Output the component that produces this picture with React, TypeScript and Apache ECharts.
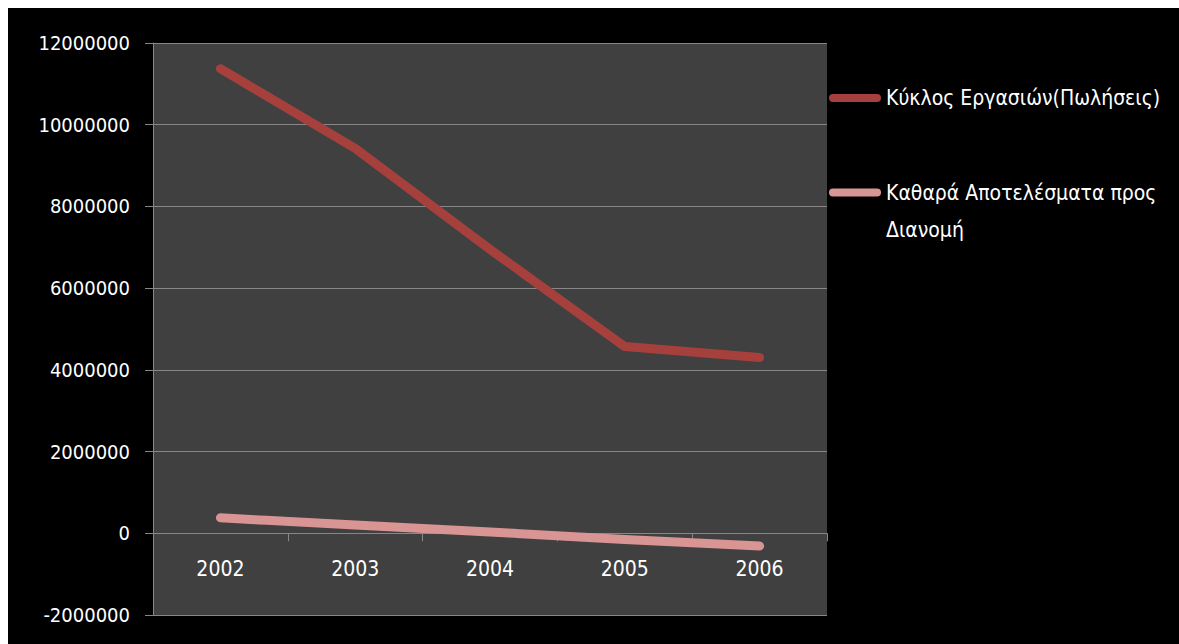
import React, { useEffect, useRef } from "react";
import * as echarts from "echarts";

const years = ["2002", "2003", "2004", "2005", "2006"];
const salesName = "Κύκλος Εργασιών(Πωλήσεις)";
const salesValues = [11370000, 9420000, 6950000, 4570000, 4300000];
const profitName = "Καθαρά Αποτελέσματα προς Διανομή";
const profitLines = ["Καθαρά Αποτελέσματα προς", "Διανομή"];
const profitValues = [380000, 200000, 30000, -150000, -310000];
const yMin = -2000000;
const yMax = 12000000;
const yStep = 2000000;

const FONT = '"DejaVu Sans Condensed", "Liberation Sans Narrow", "Noto Sans", sans-serif';
const salesColor = "#A6403D";
const profitColor = "#D99594";
const gridColor = "#878787";
const pillIcon = "path://M4,0 L48,0 A4,4 0 0 1 48,8 L4,8 A4,4 0 0 1 4,0 Z";

export default function App() {
  const ref = useRef<HTMLDivElement>(null);

  useEffect(() => {
    document.body.style.overflow = "hidden";
    if (!ref.current) return;
    const chart = echarts.init(ref.current, null, { renderer: "svg" });
    chart.setOption({
      animation: false,
      backgroundColor: "#000000",
      grid: {
        left: 145,
        top: 35,
        right: 352,
        bottom: 29,
        outerBoundsMode: "none",
        show: true,
        backgroundColor: "#404040",
        borderWidth: 0,
      },
      legend: [
        {
          data: [salesName],
          orient: "vertical",
          left: 821,
          top: 75,
          padding: 0,
          itemWidth: 52,
          itemHeight: 8,
          icon: pillIcon,
          textStyle: { color: "#ffffff", fontFamily: FONT, fontSize: 21, lineHeight: 30 },
        },
        {
          data: [profitName],
          orient: "vertical",
          left: 821,
          top: 129,
          padding: 0,
          itemWidth: 52,
          itemHeight: 8,
          icon: pillIcon,
          // blank first line keeps the icon level with the first text line
          formatter: () => "\n" + profitLines.join("\n"),
          textStyle: { color: "#ffffff", fontFamily: FONT, fontSize: 21, lineHeight: 37 },
        },
      ],
      xAxis: {
        type: "category",
        data: years,
        boundaryGap: true,
        axisLine: { onZero: true, lineStyle: { color: gridColor, width: 1 } },
        axisTick: { show: true, interval: 0, length: 8, lineStyle: { color: gridColor } },
        axisLabel: { color: "#ffffff", fontFamily: FONT, fontSize: 21, margin: -57 },
        splitLine: { show: false },
      },
      yAxis: {
        type: "value",
        min: yMin,
        max: yMax,
        interval: yStep,
        axisLine: { show: true, lineStyle: { color: gridColor, width: 1 } },
        axisTick: { show: true, length: 8, lineStyle: { color: gridColor } },
        axisLabel: {
          color: "#ffffff",
          fontFamily: FONT,
          fontSize: 20,
          margin: 23,
          formatter: (v: number) => String(v),
        },
        splitLine: { show: true, lineStyle: { color: gridColor, width: 1 } },
      },
      series: [
        {
          name: salesName,
          type: "line",
          data: salesValues,
          showSymbol: false,
          symbol: "none",
          color: salesColor,
          lineStyle: { width: 9, color: salesColor, cap: "round", join: "round" },
        },
        {
          name: profitName,
          type: "line",
          data: profitValues,
          showSymbol: false,
          symbol: "none",
          color: profitColor,
          lineStyle: { width: 9, color: profitColor, cap: "round", join: "round" },
        },
      ],
    });
    return () => chart.dispose();
  }, []);

  return (
    <div
      ref={ref}
      style={{ position: "fixed", left: 8, top: 8, width: 1171, height: 636, background: "#000" }}
    />
  );
}
